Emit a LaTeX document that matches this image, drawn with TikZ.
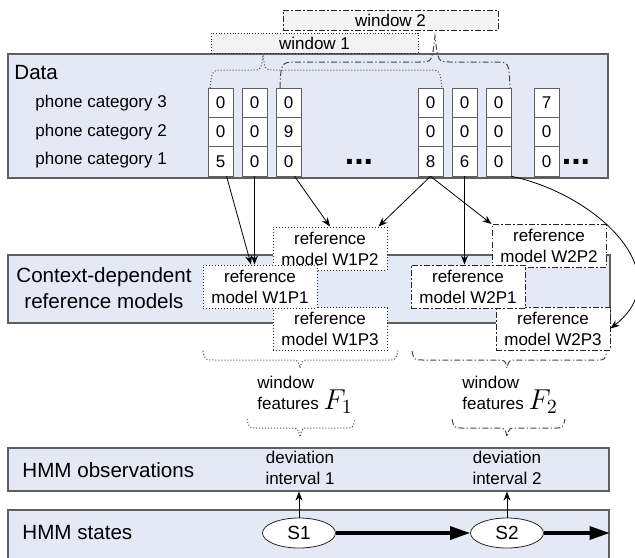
\documentclass[tikz,border=0pt]{standalone}
\usepackage{fontspec}
\setmainfont{Liberation Sans}
\usetikzlibrary{shapes.geometric,arrows.meta,calc}
\definecolor{panelblue}{RGB}{227,234,246}
\definecolor{panelline}{RGB}{95,95,95}
\definecolor{winfill}{RGB}{243,243,243}
\definecolor{bracegray}{RGB}{70,70,70}

\begin{document}
\begin{tikzpicture}[x=0.5pt,y=-0.5pt,>={Stealth[length=4.5pt,width=3.5pt]}]
	\tikzstyle{panel}=[draw=panelline,fill=panelblue,line width=0.6pt,inner sep=0pt]
	\tikzstyle{paneltext}=[font=\fontsize{10.3}{13}\selectfont,inner sep=0pt]
	\tikzstyle{smalltext}=[font=\fontsize{8.5}{10.5}\selectfont]
	\tikzstyle{datacell}=[draw=panelline,fill=white,minimum width=12.5pt,minimum height=14.6pt,inner sep=0pt,smalltext]
	\tikzstyle{winone}=[densely dotted]
	\tikzstyle{wintwo}=[dash pattern=on 3pt off 1.2pt on 0.6pt off 1.2pt]
	\tikzstyle{winbox}=[draw=black!85,fill=winfill,minimum height=10pt,inner sep=0pt,smalltext]
	\tikzstyle{refmodel}=[draw=black!85,fill=white,line width=0.5pt,minimum width=57pt,minimum height=21.5pt,inner sep=0pt,align=center,smalltext]
	\tikzstyle{hmmstate}=[ellipse,draw=black!85,fill=white,minimum width=36.5pt,minimum height=15pt,inner sep=0pt,font=\fontsize{9.5}{11}\selectfont]
	\tikzstyle{curly}=[draw=bracegray,line width=0.5pt]
	\tikzstyle{bigarrow}=[line width=1.6pt,-{Triangle[length=10pt,width=6.5pt]}]

	\clip (0,0) rectangle (635,557);

	% panels
	\node[panel,minimum width=300pt,minimum height=62pt] (data) at (308,116) {};
	\node[panel,minimum width=301pt,minimum height=34pt] (ctx) at (309,289) {};
	\node[panel,minimum width=300.5pt,minimum height=21.5pt] (obs) at (308.5,469.5) {};
	\node[panel,minimum width=300.5pt,minimum height=35pt] (states) at (308.5,545) {};

	\node[paneltext,anchor=west] (datalbl) at (14,73) {Data};
	\node[paneltext,align=center] (ctxlbl) at (104,288) {Context-dependent\\reference models};
	\node[paneltext,anchor=west] (obslbl) at (22,470) {HMM observations};
	\node[paneltext,anchor=west] (statelbl) at (22,533) {HMM states};

	% windows
	\node[winbox,winone,minimum width=103.5pt] (win1) at (314.5,43) {window 1};
	\node[winbox,wintwo,minimum width=107.5pt] (win2) at (390.5,20) {window 2};

	% data cells
	\foreach \r/\yy in {3/103,2/132,1/160}
		\node[smalltext,anchor=west,inner sep=0pt] (cat\r) at (35,\yy) {phone category \r};
	\foreach \c/\xx/\va/\vb/\vc in {1/220.5/0/0/5,2/254.5/0/0/0,3/288.5/0/9/0,4/430.5/0/0/8,5/464.5/0/0/6,6/498.5/0/0/0,7/546.5/7/0/0}{
		\node[datacell] (c\c-3) at (\xx,102.7) {\va};
		\node[datacell] (c\c-2) at (\xx,132) {\vb};
		\node[datacell] (c\c-1) at (\xx,161.3) {\vc};
	}
	\node[font=\fontsize{17}{17}\selectfont\bfseries,anchor=base,inner sep=0pt] (dotsa) at (359,164) {...};
	\node[font=\fontsize{17}{17}\selectfont\bfseries,anchor=base,inner sep=0pt] (dotsb) at (576,164) {...};

	% window braces
	\draw[curly,winone] (210,88) .. controls (212,70) .. (225,70) -- (252,70)
		.. controls (261,70) .. (263,55) .. controls (265,70) .. (274,70) -- (428,70)
		.. controls (440,70) .. (442,88);
	\draw[curly,wintwo] (280,88) .. controls (281,62) .. (298,62) -- (420,62)
		.. controls (432,62) .. (435,36) .. controls (438,62) .. (450,62) -- (495,62)
		.. controls (509,62) .. (510,88);

	% reference models
	\node[refmodel,winone] (w1p2) at (330,248.5) {reference\\model W1P2};
	\node[refmodel,winone] (w1p3) at (330,329) {reference\\model W1P3};
	\node[refmodel,winone] (w1p1) at (260,286.5) {reference\\model W1P1};
	\node[refmodel,wintwo] (w2p2) at (549,246) {reference\\model W2P2};
	\node[refmodel,wintwo] (w2p3) at (553,328.5) {reference\\model W2P3};
	\node[refmodel,wintwo] (w2p1) at (468,286.5) {reference\\model W2P1};

	\draw[->] (c1-1.-68) -- ($(w1p1.north)+(-9,0)$);
	\draw[->] (c2-1.south) -- (c2-1.south |- w1p1.north);
	\draw[->] (c3-1.-68) -- (w1p2.north);
	\draw[->] (c4-1.south) -- ($(w1p2.north east)+(-9,0)$);
	\draw[->] (c4-1.south) -- (w2p2.north west);
	\draw[->] (c5-1.south) -- (c5-1.south |- w2p1.north);
	\draw[->] (c6-1.south east) .. controls +(85,18) and +(70,-55) .. (w2p3.east);

	% feature braces
	\draw[curly,winone] (203,351) .. controls (205,360) .. (215,360) -- (290,360)
		.. controls (298,360) .. (300,368) .. controls (302,360) .. (310,360) -- (388,360)
		.. controls (396,360) .. (398,350);
	\draw[curly,wintwo] (412,351) .. controls (414,360) .. (424,360) -- (497,360)
		.. controls (505,360) .. (507,368) .. controls (509,360) .. (517,360) -- (597,360)
		.. controls (605,360) .. (607,350);
	\node[smalltext,align=left,anchor=west,inner sep=0pt] (feat1) at (257,395) {window\\features {\fontsize{14}{14}\selectfont$F_1$}};
	\node[smalltext,align=left,anchor=west,inner sep=0pt] (feat2) at (462,395) {window\\features {\fontsize{14}{14}\selectfont$F_2$}};
	\draw[curly,winone] (247,419) .. controls (249,428) .. (258,428) -- (291,428)
		.. controls (298,428) .. (300,437) .. controls (302,428) .. (309,428) -- (345,428)
		.. controls (353,428) .. (355,419);
	\draw[curly,wintwo] (452,419) .. controls (454,428) .. (463,428) -- (498,428)
		.. controls (505,428) .. (507,437) .. controls (509,428) .. (516,428) -- (555,428)
		.. controls (563,428) .. (565,419);

	% HMM
	\node[smalltext,align=center] (dev1) at (300,467.5) {deviation\\interval 1};
	\node[smalltext,align=center] (dev2) at (507,467.5) {deviation\\interval 2};
	\node[hmmstate] (s1) at (299,533) {S1};
	\node[hmmstate] (s2) at (507,533) {S2};
	\draw[->] (s1.north) -- (s1.north |- obs.south);
	\draw[->] (s2.north) -- (s2.north |- obs.south);
	\draw[bigarrow] (s1) -- (s2);
	\draw[bigarrow] (s2) -- (s2 -| states.east);
\end{tikzpicture}
\end{document}
